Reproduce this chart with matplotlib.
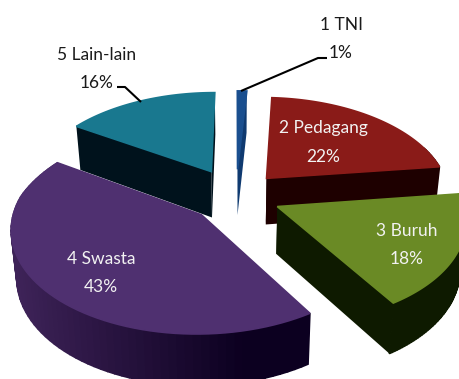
import numpy as np
import matplotlib
matplotlib.use("Agg")
import matplotlib.pyplot as plt
from matplotlib.colors import to_rgb

labels = ["1 TNI", "2 Pedagang", "3 Buruh", "4 Swasta", "5 Lain-lain"]
values = [1, 22, 18, 43, 16]
explode = [0.28, 0.25, 0.245, 0.26, 0.29]

top_colors = ["#1a4f8f", "#8a1b18", "#6a8a25", "#4f3070", "#19788f"]
side_left = ["#0f3a70", "#1e0000", "#0e1a00", "#3e2358", "#00121c"]
side_right = ["#0f3a70", "#1e0000", "#0e1a00", "#0c0020", "#00121c"]
text_colors = ["#1a1a1a", "#f2f2f2", "#f2f2f2", "#f2f2f2", "#1a1a1a"]
label_pos = [(341, 39), (323, 142), (407, 245), (101, 273), (97, 69)]

# pie geometry, in pixels
cx, cy = 236, 196
rx, ry = 184, 100
persp_far, persp_near = 0.17, 0.12
depth = 47
shrink = 0.975


def project(u, v, lower=False):
    s = 1 / (1 + np.where(np.asarray(v) > 0, persp_far, persp_near) * v)
    x = cx + rx * u * s
    y = cy - ry * v * s
    if lower:
        x = cx + (x - cx) * shrink
        y = y + depth * s ** 0.6
    return x, y


def rim(theta, off):
    return np.sin(theta) + off[0], np.cos(theta) + off[1]


fig = plt.figure(figsize=(4.59, 3.79), dpi=100)
ax = fig.add_axes([0, 0, 1, 1])
ax.set_xlim(0, 459)
ax.set_ylim(379, 0)
ax.axis("off")

edges = np.radians(np.cumsum([0] + values) * 3.6)
slices = []
for i in range(len(values)):
    slices.append((i, edges[i], edges[i + 1]))

# back slices first so the front ones cover them
for i, a, b in [slices[k] for k in (4, 0, 1, 3, 2)]:
    mid = (a + b) / 2
    off = (explode[i] * np.sin(mid), explode[i] * np.cos(mid))

    # cut faces
    for t in (a, b):
        u, v = rim(t, off)
        p = [project(off[0], off[1]), project(u, v),
             project(u, v, True), project(off[0], off[1], True)]
        ax.fill(*zip(*p), color=side_left[i] if t == a else side_right[i], lw=0)

    # outer wall, shaded strip by strip
    th = np.linspace(a, b, 70)
    c0, c1 = np.array(to_rgb(side_left[i])), np.array(to_rgb(side_right[i]))
    for k in range(len(th) - 1):
        u0, v0 = rim(th[k], off)
        u1, v1 = rim(th[k + 1], off)
        if np.cos(th[k]) > 0.35 and i in (0, 1, 4):
            continue
        # the shade runs left to right across the wall
        f = np.clip((project(u0, v0)[0] - 15) / 230, 0, 1)
        col = c0 + (c1 - c0) * f
        p = [project(u0, v0), project(u1, v1),
             project(u1, v1, True), project(u0, v0, True)]
        ax.fill(*zip(*p), color=col, lw=1.2, ec=col)

    # top face
    u, v = rim(th, off)
    xs, ys = project(u, v)
    ax0, ay0 = project(off[0], off[1])
    ax.fill(np.r_[ax0, xs], np.r_[ay0, ys], fc=top_colors[i], ec=top_colors[i], lw=1.2)

# leader lines
ax.plot([241, 318, 327], [91, 58, 58], color="black", lw=1.5, solid_capstyle="butt")
ax.plot([117, 125, 141], [87, 87, 102], color="black", lw=1.5, solid_capstyle="butt")

for name, val, col, (x, y) in zip(labels, values, text_colors, label_pos):
    ax.text(x, y, f"{name}\n{val}%", color=col, ha="center", va="center",
            family="Lato", fontsize=12.5, linespacing=2.0, zorder=30)

fig.savefig("out.png", dpi=100)
